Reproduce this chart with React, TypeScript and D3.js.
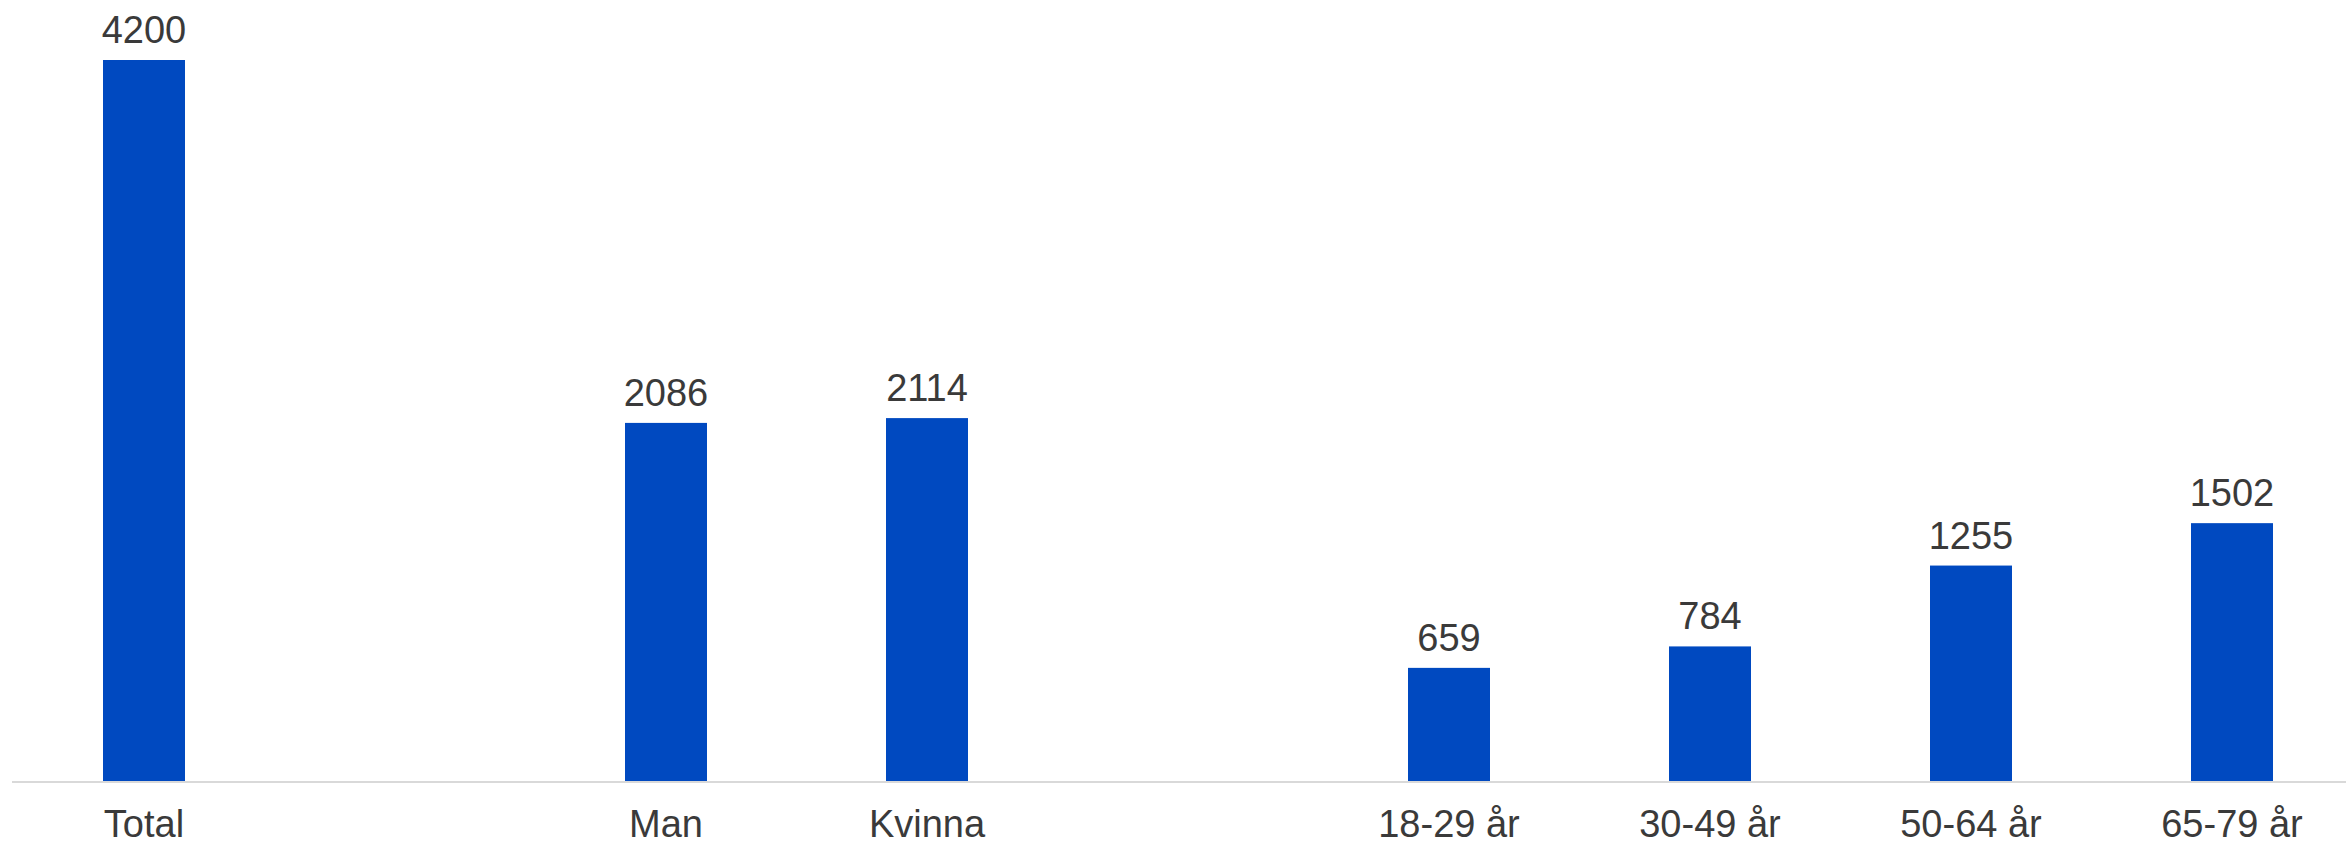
import { useEffect } from "react";
import * as d3 from "d3";

// empty strings are spacer slots between the groups
const categories = ["Total", "", "Man", "Kvinna", " ", "18-29 år", "30-49 år", "50-64 år", "65-79 år"];
const values: (number | null)[] = [4200, null, 2086, 2114, null, 659, 784, 1255, 1502];

const width = 2346;
const height = 845;
const barColor = "#0049C0";
const textColor = "#3a3a3a";
const font = "'Liberation Sans', Arial, sans-serif";

export default function App() {
  useEffect(() => {
    document.body.style.margin = "0";
  }, []);

  const x = d3.scaleBand<string>().domain(categories).range([13.5, 2362.5]).padding(0);
  const y = d3.scaleLinear().domain([0, 4200]).range([781, 60]);
  const barW = 82;

  return (
    <svg width={width} height={height} style={{ display: "block" }}>
      <rect width={width} height={height} fill="#fff" />
      {categories.map((c, i) => {
        const v = values[i];
        if (v == null) return null;
        const cx = (x(c) ?? 0) + x.bandwidth() / 2;
        return (
          <g key={c}>
            <rect x={cx - barW / 2} y={y(v)} width={barW} height={y(0) - y(v)} fill={barColor} />
            <text
              x={cx}
              y={y(v) - 17}
              textAnchor="middle"
              fontFamily={font}
              fontSize={38}
              fill={textColor}
            >
              {v}
            </text>
            <text x={cx} y={837} textAnchor="middle" fontFamily={font} fontSize={38} fill={textColor}>
              {c}
            </text>
          </g>
        );
      })}
      <line x1={12} x2={width} y1={y(0) + 1} y2={y(0) + 1} stroke="#d9d9d9" strokeWidth={2} />
    </svg>
  );
}
